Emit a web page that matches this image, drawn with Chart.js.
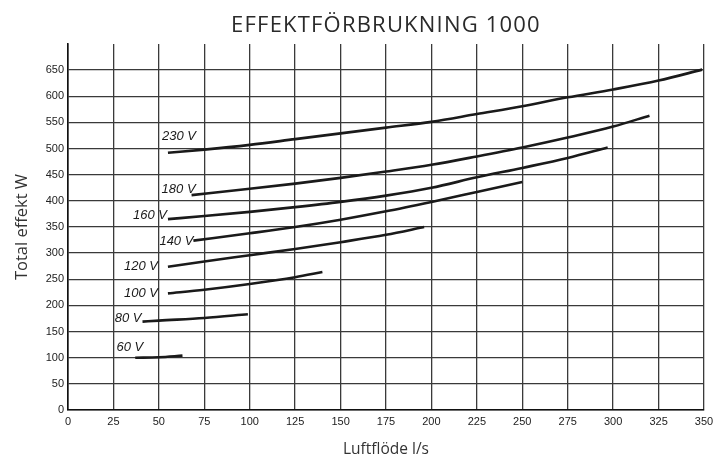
<!DOCTYPE html>
<html>
<head>
<meta charset="utf-8">
<script src="https://cdn.jsdelivr.net/npm/chart.js@4.4.1/dist/chart.umd.min.js"></script>
<style>
  html, body { margin: 0; padding: 0; background: #fff; }
  #app-chart { display: block; }
</style>
</head>
<body>
<canvas id="app-chart" width="713" height="459"></canvas>
<script>
// Luftflöde (l/s) and total effekt (W), one pair per voltage
const chartTitle = "EFFEKTFÖRBRUKNING 1000";
const voltages = ["230 V", "180 V", "160 V", "140 V", "120 V", "100 V", "80 V", "60 V"];

const flow230 = [55, 75, 100, 125, 150, 175, 200, 225, 250, 275, 300, 325, 349];
const power230 = [492, 498, 507, 518, 529, 540, 551, 566, 581, 598, 613, 630, 651];

const flow180 = [68, 100, 125, 150, 175, 200, 225, 250, 275, 300, 320];
const power180 = [411, 423, 433, 444, 456, 469, 485, 502, 521, 542, 563];

const flow160 = [55, 75, 100, 125, 150, 175, 200, 225, 250, 275, 297];
const power160 = [365, 371, 379, 388, 398, 410, 425, 445, 463, 482, 502];

const flow140 = [69, 100, 125, 150, 175, 200, 225, 250];
const power140 = [324, 338, 350, 364, 380, 398, 417, 436];

const flow120 = [55, 75, 100, 125, 150, 175, 196];
const power120 = [274, 284, 296, 308, 321, 335, 350];

const flow100 = [55, 75, 100, 125, 140];
const power100 = [223, 230, 241, 254, 264];

const flow80 = [41, 50, 75, 99];
const power80 = [169, 171, 176, 183];

const flow60 = [37, 50, 63];
const power60 = [100, 101, 104];

const flows = [flow230, flow180, flow160, flow140, flow120, flow100, flow80, flow60];
const powers = [power230, power180, power160, power140, power120, power100, power80, power60];

// where each voltage label sits, in px relative to the curve's first point
const labelOffsets = [[28, -16], [4, -6], [-1, -4], [0, 1], [-10, 0], [-10, 0], [-1, -3], [8, -10]];

const datasets = voltages.map((v, i) => ({
  label: v,
  data: flows[i].map((x, j) => ({ x: x, y: powers[i][j] })),
  borderColor: "#1a1a1a",
  borderWidth: 2.6,
  pointRadius: 0,
  fill: false,
  cubicInterpolationMode: "monotone",
}));

// title is drawn by hand so it can get the wide letter spacing of the original
const textLayer = {
  id: "textLayer",
  afterDatasetsDraw(chart) {
    const ctx = chart.ctx;
    const area = chart.chartArea;
    ctx.save();

    ctx.font = "italic 13px 'Liberation Sans', Arial, sans-serif";
    ctx.fillStyle = "#1a1a1a";
    ctx.textAlign = "right";
    ctx.textBaseline = "middle";
    chart.data.datasets.forEach((ds, i) => {
      const first = chart.getDatasetMeta(i).data[0];
      ctx.fillText(ds.label, first.x + labelOffsets[i][0], first.y + labelOffsets[i][1]);
    });

    ctx.font = "22px 'Open Sans', 'Noto Sans', sans-serif";
    ctx.fillStyle = "#2a2a2a";
    ctx.textAlign = "center";
    ctx.textBaseline = "alphabetic";
    ctx.letterSpacing = "1.2px";
    ctx.fillText(chartTitle, (area.left + area.right) / 2, 32);

    ctx.restore();
  },
};

const ctx = document.querySelector("#app-chart").getContext("2d");

new Chart(ctx, {
  type: "line",
  data: { datasets: datasets },
  plugins: [textLayer],
  options: {
    responsive: false,
    animation: false,
    layout: { padding: { left: 0, right: 0, top: 44, bottom: 0 } },
    plugins: {
      legend: { display: false },
      tooltip: { enabled: false },
      title: { display: false },
    },
    scales: {
      x: {
        type: "linear",
        min: 0,
        max: 350,
        afterFit: (scale) => {
          scale.height = 49;
          scale.paddingLeft = 0;
          scale.paddingRight = 9;
        },
        ticks: {
          stepSize: 25,
          padding: 5,
          color: "#222",
          font: { family: "'Liberation Sans', Arial, sans-serif", size: 11 },
          maxRotation: 0,
        },
        grid: { color: "#3a3a3a", lineWidth: 1.3, drawTicks: false },
        border: { color: "#111", width: 1.6 },
        title: {
          display: true,
          text: "Luftflöde l/s",
          color: "#333",
          font: { family: "'Open Sans', 'Noto Sans', sans-serif", size: 15.5 },
          padding: { top: 0, bottom: 0 },
        },
      },
      y: {
        type: "linear",
        min: 0,
        max: 700,
        afterFit: (scale) => { scale.width = 68; },
        ticks: {
          stepSize: 50,
          padding: 4,
          color: "#222",
          font: { family: "'Liberation Sans', Arial, sans-serif", size: 11 },
          callback: (v) => (v === 700 ? null : v),
        },
        grid: { color: "#3a3a3a", lineWidth: 1.3, drawTicks: false },
        border: { color: "#111", width: 1.6 },
        title: {
          display: true,
          text: "Total effekt W",
          color: "#333",
          font: { family: "'Open Sans', 'Noto Sans', sans-serif", size: 16.5 },
          padding: { top: 12, bottom: 0 },
        },
      },
    },
  },
});
</script>
</body>
</html>
